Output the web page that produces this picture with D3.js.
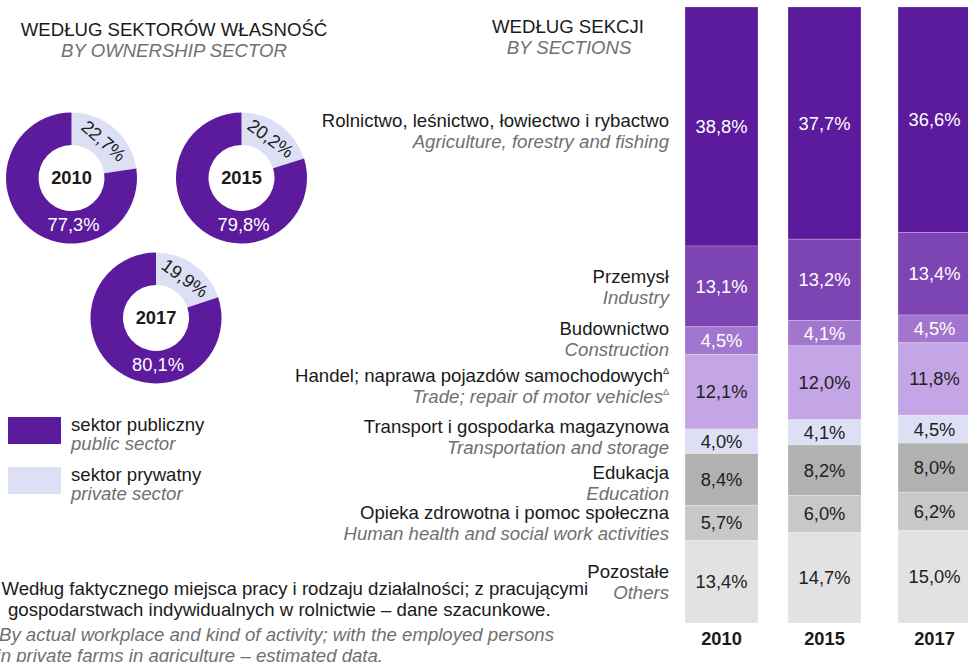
<!DOCTYPE html>
<html>
<head>
<meta charset="utf-8">
<title>Pracujący według sektorów i sekcji</title>
<script src="https://d3js.org/d3.v7.min.js"></script>
<style>
  body { margin: 0; background: #fff; }
  svg { display: block; font-family: "Liberation Sans", Arial, sans-serif; }
  .pl { fill: #1a1a1a; font-size: 18.6px; }
  .en { fill: #707070; font-size: 18.6px; font-style: italic; }
</style>
</head>
<body>
<svg id="chart" width="968" height="662"></svg>
<script>
// data
const years = ["2010", "2015", "2017"];
const publicShare = [77.3, 79.8, 80.1];
const privateShare = [22.7, 20.2, 19.9];

const sectionsPl = [
  "Rolnictwo, leśnictwo, łowiectwo i rybactwo",
  "Przemysł",
  "Budownictwo",
  "Handel; naprawa pojazdów samochodowych",
  "Transport i gospodarka magazynowa",
  "Edukacja",
  "Opieka zdrowotna i pomoc społeczna",
  "Pozostałe"
];
const sectionsEn = [
  "Agriculture, forestry and fishing",
  "Industry",
  "Construction",
  "Trade; repair of motor vehicles",
  "Transportation and storage",
  "Education",
  "Human health and social work activities",
  "Others"
];
const share2010 = [38.8, 13.1, 4.5, 12.1, 4.0, 8.4, 5.7, 13.4];
const share2015 = [37.7, 13.2, 4.1, 12.0, 4.1, 8.2, 6.0, 14.7];
const share2017 = [36.6, 13.4, 4.5, 11.8, 4.5, 8.0, 6.2, 15.0];

const fmt = v => d3.format(".1f")(v).replace(".", ",") + "%";

const svg = d3.select("#chart");

const sectionColors = ["#5c1b9c", "#7d44b4", "#a276cf", "#c4a5e6", "#dde0f5", "#b0b1b0", "#c8c8c8", "#e2e2e2"];
const sectionText = ["#fff", "#fff", "#fff", "#222", "#222", "#222", "#222", "#222"];
const colorPublic = "#5c1b9c", colorPrivate = "#dde0f5";
const fs = 18.3;

// ---- titles
svg.append("text").attr("class", "pl").attr("x", 174).attr("y", 35.5).attr("text-anchor", "middle").text("WEDŁUG SEKTORÓW WŁASNOŚĆ");
svg.append("text").attr("class", "en").attr("x", 174).attr("y", 56.5).attr("text-anchor", "middle").text("BY OWNERSHIP SECTOR");
svg.append("text").attr("class", "pl").attr("x", 568).attr("y", 33).attr("text-anchor", "middle").text("WEDŁUG SEKCJI");
svg.append("text").attr("class", "en").attr("x", 569).attr("y", 54).attr("text-anchor", "middle").text("BY SECTIONS");

// ---- donuts
const donutPos = [[71.5, 178], [241.5, 178], [156, 318]];
const rOuter = 65.5, rInner = 33;
const pie = d3.pie().sort(null).value(d => d.v);
const arc = d3.arc().innerRadius(rInner).outerRadius(rOuter);
const midArc = d3.arc().innerRadius((rInner + rOuter) / 2).outerRadius((rInner + rOuter) / 2);

years.forEach((yr, i) => {
  const g = svg.append("g").attr("transform", `translate(${donutPos[i][0]},${donutPos[i][1]})`);
  const slices = pie([{k: "private", v: privateShare[i]}, {k: "public", v: publicShare[i]}]);
  g.selectAll("path").data(slices).join("path")
    .attr("d", arc)
    .attr("fill", d => d.data.k === "public" ? colorPublic : colorPrivate);

  const priv = slices[0];
  const c = midArc.centroid(priv);
  const ang = (priv.startAngle + priv.endAngle) / 2 * 180 / Math.PI;
  g.append("text")
    .attr("transform", `translate(${c[0]},${c[1]}) rotate(${ang})`)
    .attr("text-anchor", "middle").attr("dy", "0.35em")
    .attr("font-size", fs).attr("fill", "#222")
    .text(fmt(privateShare[i]));

  g.append("text").attr("x", 2).attr("y", 47).attr("dy", "0.35em")
    .attr("text-anchor", "middle").attr("font-size", fs).attr("fill", "#fff")
    .text(fmt(publicShare[i]));

  g.append("text").attr("x", 0).attr("y", 0).attr("dy", "0.35em")
    .attr("text-anchor", "middle").attr("font-size", fs).attr("font-weight", "bold").attr("fill", "#1a1a1a")
    .text(yr);
});

// ---- legend
const legendItems = [
  {pl: "sektor publiczny", en: "public sector", color: colorPublic},
  {pl: "sektor prywatny", en: "private sector", color: colorPrivate}
];
legendItems.forEach((d, i) => {
  const y0 = 417 + i * 50;
  svg.append("rect").attr("x", 8).attr("y", y0).attr("width", 53).attr("height", 27).attr("fill", d.color);
  svg.append("text").attr("class", "pl").attr("x", 71).attr("y", y0 + 13.5).text(d.pl);
  svg.append("text").attr("class", "en").attr("x", 71).attr("y", y0 + 33).text(d.en);
});

// ---- stacked bars
const shares = [share2010, share2015, share2017];
const y = d3.scaleLinear().domain([0, 100]).range([7, 623]);
const x = d3.scaleOrdinal().domain(years).range([685, 788, 898]);
const barW = 73;

function stackOf(vals) {
  let acc = 0;
  return vals.map((v, k) => { const s = {k, v, y0: acc, y1: acc + v}; acc += v; return s; });
}

years.forEach((yr, i) => {
  const g = svg.append("g").attr("transform", `translate(${x(yr)},0)`);
  const segs = stackOf(shares[i]);
  g.selectAll("rect").data(segs).join("rect")
    .attr("x", 0).attr("width", barW)
    .attr("y", d => y(d.y0)).attr("height", d => y(d.y1) - y(d.y0))
    .attr("fill", d => sectionColors[d.k])
    .attr("stroke", "#fff").attr("stroke-opacity", 0.22).attr("stroke-width", 1);
  g.selectAll("text.val").data(segs).join("text").attr("class", "val")
    .attr("x", barW / 2).attr("y", d => (y(d.y0) + y(d.y1)) / 2).attr("dy", "0.35em")
    .attr("text-anchor", "middle").attr("font-size", fs)
    .attr("fill", d => sectionText[d.k])
    .text(d => fmt(d.v));
  svg.append("text").attr("x", x(yr) + barW / 2).attr("y", 645)
    .attr("text-anchor", "middle").attr("font-size", fs).attr("font-weight", "bold").attr("fill", "#1a1a1a")
    .text(yr);
});

// ---- section labels, aligned with 2010 segments
const labelNudge = [4.7, 0.8, -1.7, -5.4, -4.5, 3.3, 0.4, 0];
const segs2010 = stackOf(share2010);
segs2010.forEach((d, k) => {
  const cy = (y(d.y0) + y(d.y1)) / 2 + labelNudge[k];
  const t1 = svg.append("text").attr("class", "pl").attr("x", 669).attr("y", cy - 4).attr("text-anchor", "end").text(sectionsPl[k]);
  const t2 = svg.append("text").attr("class", "en").attr("x", 669).attr("y", cy + 17).attr("text-anchor", "end").text(sectionsEn[k]);
  if (k === 3) {
    t1.append("tspan").attr("font-size", 9).attr("dy", -8).text("Δ");
    t2.append("tspan").attr("font-size", 9).attr("dy", -8).attr("font-style", "normal").text("Δ");
  }
});

// ---- footnote (left edge cut as in the source layout)
const footLines = [
  {t: "Według faktycznego miejsca pracy i rodzaju działalności; z pracującymi", x: 1.5, cls: "pl"},
  {t: "gospodarstwach indywidualnych w rolnictwie – dane szacunkowe.", x: 8, cls: "pl"},
  {t: "By actual workplace and kind of activity; with the employed persons", x: -1, cls: "en"},
  {t: "in private farms in agriculture – estimated data.", x: -3.5, cls: "en"}
];
const footY = [594.5, 615.5, 640.5, 661.5];
footLines.forEach((d, i) => {
  svg.append("text").attr("class", d.cls).attr("x", d.x).attr("y", footY[i]).text(d.t);
});
</script>
</body>
</html>
